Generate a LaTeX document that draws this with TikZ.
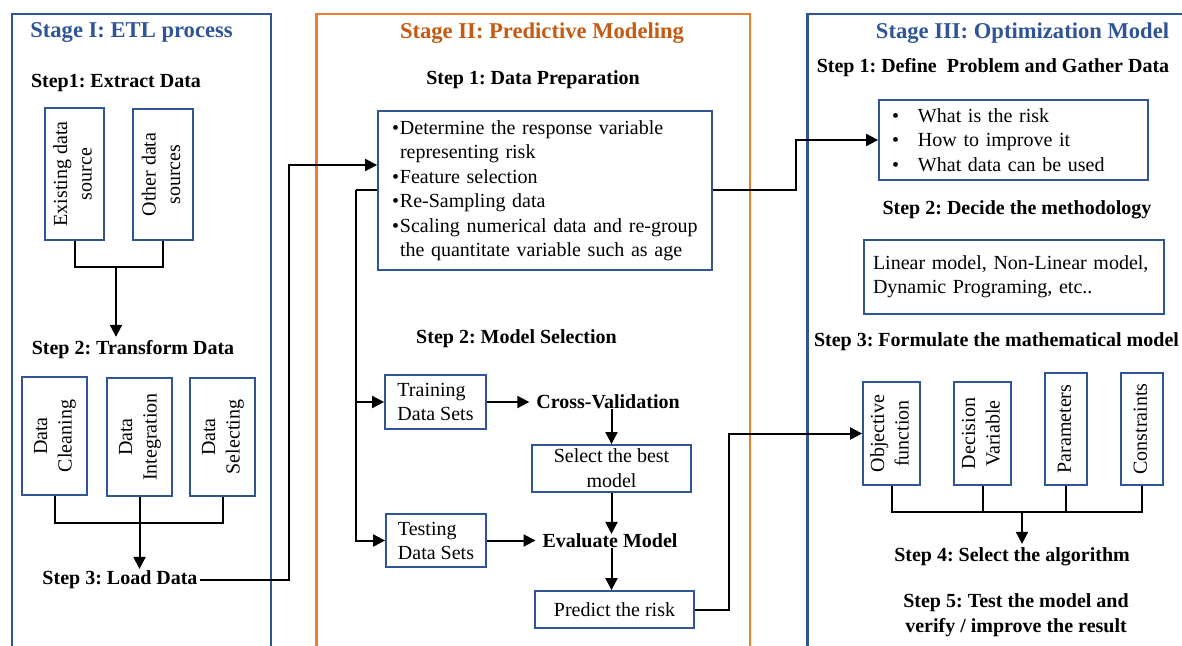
\documentclass[tikz,border=0pt]{standalone}
\usepackage{graphicx}
\usepackage{fontspec}
\setmainfont{Liberation Serif}
\usetikzlibrary{arrows.meta}
\frenchspacing
\definecolor{sblue}{RGB}{47,85,151}
\definecolor{sorange}{RGB}{237,125,49}
\definecolor{torange}{RGB}{197,90,17}
\newcommand\vtxt[1]{\rotatebox{90}{\begin{tabular}{@{}c@{}}#1\end{tabular}}}
\newcommand\bul{\makebox[8pt][l]{\textbullet}}
\newcommand\bulb{\makebox[26pt][l]{\textbullet}}
\tikzset{
  box/.style 2 args={draw=sblue, line width=1.8pt, inner sep=0pt, minimum width=#1pt, minimum height=#2pt, font=\fontsize{20}{24.5}\selectfont},
  frm/.style={line width=2.6pt},
  conn/.style={line width=2pt},
  arr/.style={conn, -{Triangle[length=12pt,width=12pt]}},
  ttl/.style={font=\bfseries\fontsize{22.6}{27}\selectfont, inner sep=0pt},
  stp/.style={font=\bfseries\fontsize{20}{24}\selectfont, inner sep=0pt, outer sep=4pt},
  mid/.style={font=\bfseries\fontsize{20}{24}\selectfont, inner xsep=7pt, inner ysep=0pt, outer sep=0pt},
}
\begin{document}
\begin{tikzpicture}[x=1pt,y=-1pt]
\useasboundingbox (0,0) rectangle (1182,645);
\fill[white] (0,0) rectangle (1182,645);

% frames
\draw[frm, sblue] (12,646) -- (12,14) -- (271,14) -- (271,646);
\draw[frm, sorange] (316.7,646) -- (316.7,14) -- (750,14) -- (750,646);
\draw[frm, sblue] (807.7,646) -- (807.7,14) -- (1183,14);

% titles
\node[ttl, text=sblue] (t1) at (131.5,33) {Stage I: ETL process};
\node[ttl, text=torange] (t2) at (542,33) {Stage II: Predictive Modeling};
\node[ttl, text=sblue] (t3) at (1022.5,33) {Stage III: Optimization Model};

% ---------- Stage I ----------
\node[stp] (s11) at (116,83) {Step1: Extract Data};
\node[box={59}{132}] (src1) at (74.5,174) {\vtxt{Existing data\\source}};
\node[box={60}{131}] (src2) at (163,174.5) {\vtxt{Other data\\sources}};
\node[stp] (s12) at (133,350) {Step 2: Transform Data};
\node[box={65}{118}] (clean) at (54.5,436) {\vtxt{Data\\Cleaning}};
\node[box={65}{118}] (integ) at (139.5,437) {\vtxt{Data\\Integration}};
\node[box={65}{118}] (selc) at (222.5,437) {\vtxt{Data\\Selecting}};
\node[stp, outer sep=2pt] (load) at (120,580) {Step 3: Load Data};

\coordinate (j1) at (116,267);
\draw[conn] (src1.south) |- (src2.south |- j1) -- (src2.south);
\draw[arr] (j1) -- (j1 |- s12.north);
\coordinate (j2) at (138,523);
\draw[conn] (clean.south) |- (selc.south |- j2) -- (selc.south);
\draw[arr] (integ.south) -- (integ.south |- load.north);

% ---------- Stage II ----------
\node[stp] (s21) at (533,80) {Step 1: Data Preparation};
\node[box={334}{159}, text width=306pt, align=left] (prep) at (545,190.5) {%
\bul Determine the response variable\\
\hspace*{8pt}representing risk\\
\bul Feature selection\\
\bul Re-Sampling data\\
\bul Scaling numerical data and re-group\\
\hspace*{8pt}the quantitate variable such as age};
\node[stp] (s22) at (516.5,339) {Step 2: Model Selection};
\node[box={101}{54}, align=left, font=\fontsize{20}{24}\selectfont] (train) at (435.5,402) {Training\\Data Sets};
\node[box={100}{53}, align=left, font=\fontsize{20}{24}\selectfont] (test) at (436,540.5) {Testing\\Data Sets};
\node[mid] (cv) at (608,402) {Cross-Validation};
\node[box={159}{47}, align=center, font=\fontsize{20}{25}\selectfont] (best) at (611.5,468.5) {Select the best\\model};
\node[mid] (ev) at (610,541) {Evaluate Model};
\node[box={159}{37}] (pred) at (614.5,609.5) {Predict the risk};

% load -> prep
\coordinate (c1) at (289,165);
\draw[arr] (load.east) -| (c1) -- (prep.west |- c1);
% prep -> train/test
\coordinate (b1) at (356,190);
\draw[conn] (prep.west |- b1) -- (b1);
\draw[arr] (b1) |- (train.west);
\draw[arr] (b1) |- (test.west);
\draw[arr] (train.east) -- (cv.west);
\draw[arr] (best.north |- cv.south) -- (best.north);
\draw[arr] (best.south) -- (best.south |- ev.north);
\draw[arr] (test.east) -- (ev.west |- test.east);
\draw[arr] (best.south |- ev.south) -- (best.south |- pred.north);

% ---------- Stage III ----------
\node[stp, outer sep=0pt] (s31) at (993,68) {Step 1: Define\ \ Problem and Gather Data};
\node[box={269}{80}, text width=243pt, align=left] (def) at (1013.5,140) {%
\bulb What is the risk\\
\bulb How to improve it\\
\bulb What data can be used};
\node[stp, outer sep=0pt] (s32) at (1017,210) {Step 2: Decide the methodology};
\node[box={300}{74}, text width=282pt, align=left, font=\fontsize{20}{24}\selectfont] (meth) at (1014,277) {Linear model, Non-Linear model,\\Dynamic Programing, etc..};
\node[stp, anchor=west, outer sep=0pt] (s33) at (814,342) {Step 3: Formulate the mathematical model};
\node[box={57}{103}] (obj) at (891.5,433.5) {\vtxt{Objective\\function}};
\node[box={57}{103}] (dec) at (982.5,433.5) {\vtxt{Decision\\Variable}};
\node[box={42}{112}] (par) at (1066,429) {\vtxt{Parameters}};
\node[box={42}{112}] (con) at (1142,429) {\vtxt{Constraints}};
\node[stp] (s34) at (1012,557) {Step 4: Select the algorithm};
\node[stp, align=center, font=\bfseries\fontsize{20}{24.5}\selectfont] (s35) at (1016,615) {Step 5: Test the model and\\verify / improve the result};

% prep -> define
\coordinate (c2) at (796,190);
\draw[arr] (prep.east |- b1) -- (c2) |- (def.west);
% predict -> objective
\coordinate (c3) at (729,609.5);
\draw[arr] (pred.east) -- (c3) |- (obj.west);
% stage III merge
\coordinate (j3) at (1022,512);
\draw[conn] (obj.south) |- (con.south |- j3) -- (con.south);
\draw[conn] (dec.south) -- (dec.south |- j3);
\draw[conn] (par.south) -- (par.south |- j3);
\draw[arr] (j3) -- (j3 |- s34.north);
\end{tikzpicture}
\end{document}
